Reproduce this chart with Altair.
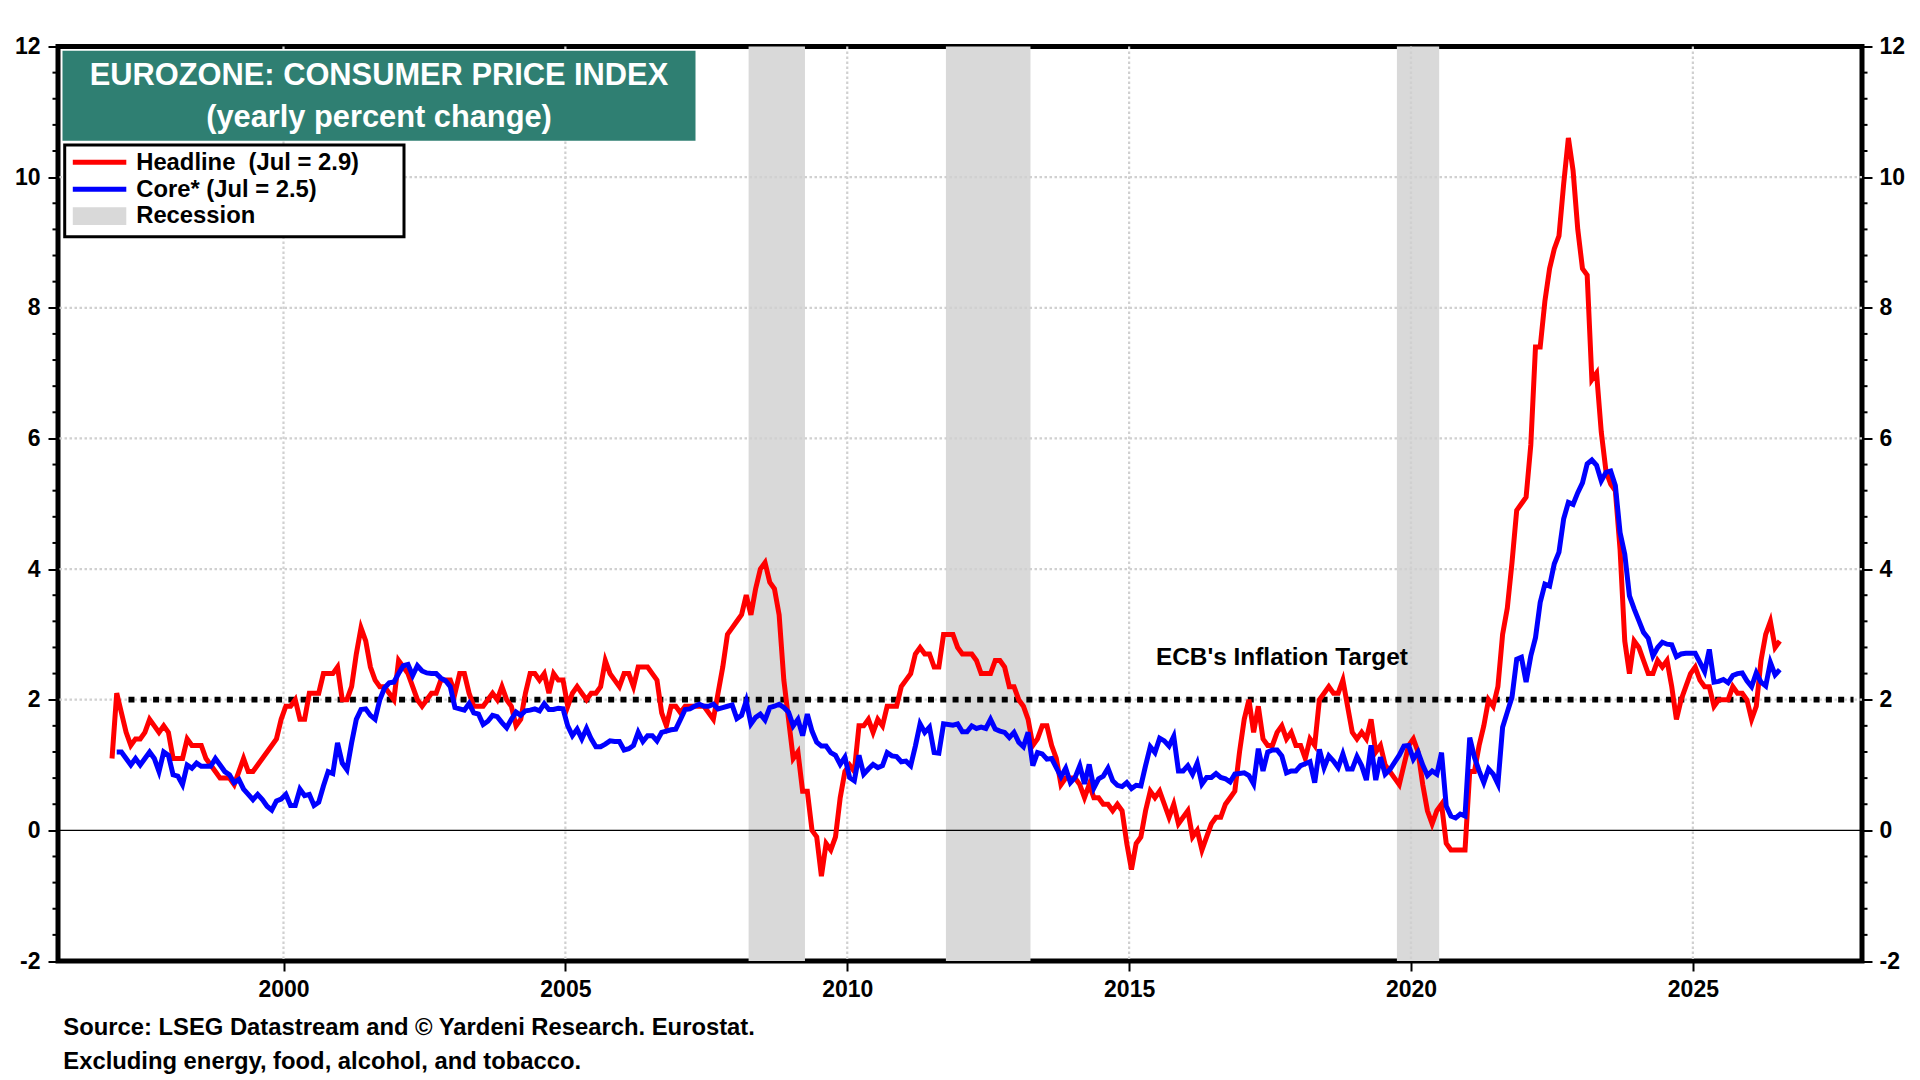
import altair as alt
import pandas as pd

# Eurozone HICP, yearly % change, monthly. Headline: Dec 1996 .. Jul 2026
headline = [
    1.1,
    2.1, 1.8, 1.5, 1.3, 1.4, 1.4, 1.5, 1.7, 1.6, 1.5, 1.6, 1.5,   # 1997
    1.1, 1.1, 1.1, 1.4, 1.3, 1.3, 1.3, 1.1, 1.0, 0.9, 0.8, 0.8,   # 1998
    0.8, 0.7, 0.9, 1.1, 0.9, 0.9, 1.0, 1.1, 1.2, 1.3, 1.4, 1.7,   # 1999
    1.9, 1.9, 2.0, 1.7, 1.7, 2.1, 2.1, 2.1, 2.4, 2.4, 2.4, 2.5,   # 2000
    2.0, 2.0, 2.2, 2.7, 3.1, 2.9, 2.5, 2.3, 2.2, 2.2, 2.1, 2.0,   # 2001
    2.6, 2.5, 2.4, 2.2, 2.0, 1.9, 2.0, 2.1, 2.1, 2.3, 2.3, 2.3,   # 2002
    2.1, 2.4, 2.4, 2.1, 1.9, 1.9, 1.9, 2.0, 2.1, 2.0, 2.2, 2.0,   # 2003
    1.9, 1.6, 1.7, 2.1, 2.4, 2.4, 2.3, 2.4, 2.1, 2.4, 2.3, 2.3,   # 2004
    1.9, 2.1, 2.2, 2.1, 2.0, 2.1, 2.1, 2.2, 2.6, 2.4, 2.3, 2.2,   # 2005
    2.4, 2.4, 2.2, 2.5, 2.5, 2.5, 2.4, 2.3, 1.8, 1.6, 1.9, 1.9,   # 2006
    1.8, 1.9, 1.9, 1.9, 1.9, 1.9, 1.8, 1.7, 2.1, 2.5, 3.0, 3.1,   # 2007
    3.2, 3.3, 3.6, 3.3, 3.7, 4.0, 4.1, 3.8, 3.7, 3.3, 2.3, 1.7,   # 2008
    1.1, 1.2, 0.6, 0.6, 0.0, -0.1, -0.7, -0.2, -0.3, -0.1, 0.5, 0.9,  # 2009
    1.0, 0.9, 1.6, 1.6, 1.7, 1.5, 1.7, 1.6, 1.9, 1.9, 1.9, 2.2,   # 2010
    2.3, 2.4, 2.7, 2.8, 2.7, 2.7, 2.5, 2.5, 3.0, 3.0, 3.0, 2.8,   # 2011
    2.7, 2.7, 2.7, 2.6, 2.4, 2.4, 2.4, 2.6, 2.6, 2.5, 2.2, 2.2,   # 2012
    2.0, 1.9, 1.7, 1.3, 1.4, 1.6, 1.6, 1.3, 1.1, 0.7, 0.8, 0.8,   # 2013
    0.8, 0.7, 0.5, 0.7, 0.5, 0.5, 0.4, 0.4, 0.3, 0.4, 0.3, -0.2,  # 2014
    -0.6, -0.2, -0.1, 0.3, 0.6, 0.5, 0.6, 0.4, 0.2, 0.4, 0.1, 0.2,  # 2015
    0.3, -0.1, 0.0, -0.3, -0.1, 0.1, 0.2, 0.2, 0.4, 0.5, 0.6, 1.2,  # 2016
    1.7, 2.0, 1.5, 1.9, 1.4, 1.3, 1.3, 1.5, 1.6, 1.4, 1.5, 1.3,   # 2017
    1.3, 1.1, 1.4, 1.3, 2.0, 2.1, 2.2, 2.1, 2.1, 2.3, 1.9, 1.5,   # 2018
    1.4, 1.5, 1.4, 1.7, 1.2, 1.3, 1.0, 0.9, 0.8, 0.7, 1.0, 1.3,   # 2019
    1.4, 1.2, 0.7, 0.3, 0.1, 0.3, 0.4, -0.2, -0.3, -0.3, -0.3, -0.3,  # 2020
    0.9, 0.9, 1.3, 1.6, 2.0, 1.9, 2.2, 3.0, 3.4, 4.1, 4.9, 5.0,   # 2021
    5.1, 5.9, 7.4, 7.4, 8.1, 8.6, 8.9, 9.1, 9.9, 10.6, 10.1, 9.2,  # 2022
    8.6, 8.5, 6.9, 7.0, 6.1, 5.5, 5.3, 5.2, 4.3, 2.9, 2.4, 2.9,   # 2023
    2.8, 2.6, 2.4, 2.4, 2.6, 2.5, 2.6, 2.2, 1.7, 2.0, 2.2, 2.4,   # 2024
    2.5, 2.3, 2.2, 2.2, 1.9, 2.0, 2.0, 2.0, 2.2, 2.1, 2.1, 2.0,   # 2025
    1.7, 1.9, 2.6, 3.0, 3.2, 2.8, 2.9,                            # 2026
]

# Core (ex energy, food, alcohol, tobacco): Jan 1997 .. Jul 2026
core = [
    1.2, 1.2, 1.1, 1.0, 1.1, 1.0, 1.1, 1.2, 1.1, 0.9, 1.2, 1.15,   # 1997
    0.85, 0.83, 0.7, 1.0, 0.95, 1.03, 0.98, 0.98, 0.98, 1.1, 1.0, 0.9,  # 1998
    0.85, 0.73, 0.78, 0.63, 0.55, 0.47, 0.55, 0.47, 0.37, 0.31, 0.45, 0.48,  # 1999
    0.55, 0.38, 0.38, 0.63, 0.53, 0.55, 0.38, 0.43, 0.68, 0.9, 0.87, 1.34,  # 2000
    1.03, 0.93, 1.34, 1.7, 1.85, 1.86, 1.76, 1.7, 2.0, 2.18, 2.26, 2.27,  # 2001
    2.4, 2.52, 2.54, 2.37, 2.52, 2.44, 2.41, 2.4, 2.4, 2.33, 2.29, 2.2,  # 2002
    1.88, 1.86, 1.84, 1.94, 1.8, 1.78, 1.62, 1.67, 1.76, 1.74, 1.65, 1.57,  # 2003
    1.7, 1.81, 1.76, 1.83, 1.84, 1.86, 1.83, 1.94, 1.85, 1.85, 1.87, 1.86,  # 2004
    1.6, 1.45, 1.55, 1.4, 1.56, 1.4, 1.28, 1.28, 1.32, 1.37, 1.36, 1.36,  # 2005
    1.23, 1.25, 1.3, 1.5, 1.36, 1.45, 1.45, 1.37, 1.5, 1.52, 1.54, 1.55,  # 2006
    1.7, 1.85, 1.86, 1.9, 1.93, 1.9, 1.9, 1.93, 1.86, 1.88, 1.9, 1.92,  # 2007
    1.71, 1.76, 1.98, 1.63, 1.73, 1.78, 1.69, 1.88, 1.9, 1.93, 1.88, 1.81,  # 2008
    1.6, 1.7, 1.45, 1.78, 1.52, 1.35, 1.29, 1.29, 1.19, 1.15, 1.01, 1.12,  # 2009
    0.81, 0.76, 1.15, 0.86, 0.94, 1.01, 0.96, 0.99, 1.19, 1.14, 1.13, 1.05,  # 2010
    1.06, 0.99, 1.29, 1.63, 1.5, 1.58, 1.19, 1.18, 1.63, 1.62, 1.61, 1.63,  # 2011
    1.51, 1.51, 1.6, 1.56, 1.58, 1.56, 1.7, 1.55, 1.52, 1.5, 1.42, 1.5,  # 2012
    1.35, 1.28, 1.5, 0.99, 1.19, 1.17, 1.09, 1.1, 0.96, 0.82, 0.95, 0.73,  # 2013
    0.81, 0.99, 0.71, 1.01, 0.65, 0.79, 0.83, 0.95, 0.76, 0.69, 0.67, 0.73,  # 2014
    0.64, 0.69, 0.68, 0.99, 1.28, 1.19, 1.41, 1.37, 1.29, 1.44, 0.91, 0.91,  # 2015
    0.99, 0.86, 1.03, 0.71, 0.81, 0.81, 0.87, 0.81, 0.79, 0.74, 0.86, 0.87,  # 2016
    0.88, 0.84, 0.71, 1.25, 0.91, 1.2, 1.23, 1.23, 1.14, 0.88, 0.91, 0.91,  # 2017
    0.99, 1.02, 1.05, 0.73, 1.24, 0.96, 1.14, 1.06, 0.96, 1.17, 0.94, 0.94,  # 2018
    1.13, 0.99, 0.77, 1.3, 0.77, 1.12, 0.86, 0.93, 1.04, 1.15, 1.29, 1.3,  # 2019
    1.09, 1.2, 1.0, 0.84, 0.91, 0.86, 1.19, 0.37, 0.22, 0.19, 0.25, 0.22,  # 2020
    1.42, 1.12, 0.91, 0.73, 0.94, 0.86, 0.71, 1.58, 1.81, 2.04, 2.62, 2.65,  # 2021
    2.27, 2.67, 2.95, 3.49, 3.77, 3.74, 4.08, 4.26, 4.77, 5.02, 4.99, 5.17,  # 2022
    5.32, 5.61, 5.67, 5.59, 5.35, 5.48, 5.5, 5.28, 4.56, 4.23, 3.59, 3.39,  # 2023
    3.21, 3.03, 2.94, 2.67, 2.8, 2.88, 2.85, 2.84, 2.66, 2.7, 2.71, 2.71,  # 2024
    2.71, 2.57, 2.43, 2.77, 2.27, 2.28, 2.31, 2.26, 2.37, 2.4, 2.41, 2.29,  # 2025
    2.2, 2.41, 2.27, 2.21, 2.57, 2.38, 2.46,                              # 2026
]

# recessions (decimal years)
rec_start = [2008.25, 2011.75, 2019.75]
rec_end = [2009.25, 2013.25, 2020.5]

# ECB 2% target line
target_value = 2.0
target_from = 1997.25
target_to = 2027.85

year_ticks = [2000, 2005, 2010, 2015, 2020, 2025]
grid_levels = [2, 4, 6, 8, 10]
major_ticks = [-2, 0, 2, 4, 6, 8, 10, 12]
minor_ticks = [round(-2 + 0.4 * i, 1) for i in range(36) if i % 5]

FONT = "Liberation Sans"
W, H = 1804, 914.5


def month_positions(year, month, n):
    # monthly observations plotted at mid-month, as decimal years
    return [year + (month - 0.5 + i) / 12 for i in range(n)]


df_head = pd.DataFrame({"t": month_positions(1996, 12, len(headline)), "v": headline})
df_core = pd.DataFrame({"t": month_positions(1997, 1, len(core)), "v": core})
df_rec = pd.DataFrame({"start": rec_start, "end": rec_end})
df_years = pd.DataFrame({"year": year_ticks})
df_levels = pd.DataFrame({"level": grid_levels})
df_minor = pd.DataFrame({"v": minor_ticks})
df_target = pd.DataFrame({"x0": [target_from], "x1": [target_to], "v": [target_value]})
df_label = pd.DataFrame({"x": [2017.71], "y": [2.53], "label": ["ECB's Inflation Target"]})
one = pd.DataFrame({"a": [0]})

xs = alt.Scale(domain=[1996, 2028], nice=False, zero=False)
ys = alt.Scale(domain=[-2, 12], nice=False, zero=False)

axis_style = dict(
    domain=False, grid=False, title=None,
    tickColor="black", tickWidth=2, tickSize=10,
    labelFont=FONT, labelFontSize=23, labelFontWeight="bold", labelColor="black",
    labelExpr="'' + datum.value",
)
x_axis = alt.Axis(values=year_ticks, labelPadding=7, **axis_style)
left_axis = alt.Axis(orient="left", values=major_ticks, labelPadding=8, **axis_style)
right_axis = alt.Axis(orient="right", values=major_ticks, labelPadding=7, **axis_style)

# recession shading
rec = alt.Chart(df_rec).mark_rect(color="#D9D9D9").encode(
    x=alt.X("start:Q", scale=xs, axis=None), x2="end:Q",
    y=alt.value(0), y2=alt.value(H),
)

# dotted grid
grid_style = dict(color="#D0D0D0", strokeWidth=2.2, strokeDash=[2.5, 2.5])
vgrid = alt.Chart(df_years).mark_rule(**grid_style).encode(
    x=alt.X("year:Q", scale=xs, axis=None))
hgrid = alt.Chart(df_levels).mark_rule(**grid_style).encode(
    y=alt.Y("level:Q", scale=ys, axis=None))

zero = alt.Chart(pd.DataFrame({"level": [0]})).mark_rule(color="black", strokeWidth=1.3).encode(
    y=alt.Y("level:Q", scale=ys, axis=None))

target = alt.Chart(df_target).mark_rule(color="black", strokeWidth=5.8, strokeDash=[6, 6.3]).encode(
    x=alt.X("x0:Q", scale=xs, axis=None), x2="x1:Q",
    y=alt.Y("v:Q", scale=ys, axis=None),
)

# minor ticks on both sides
minor_left = alt.Chart(df_minor).mark_rule(color="black", strokeWidth=2).encode(
    y=alt.Y("v:Q", scale=ys, axis=None), x=alt.value(-5.5), x2=alt.value(0))
minor_right = alt.Chart(df_minor).mark_rule(color="black", strokeWidth=2).encode(
    y=alt.Y("v:Q", scale=ys, axis=None), x=alt.value(W), x2=alt.value(W + 5.5))

red = alt.Chart(df_head).mark_line(color="#FF0000", strokeWidth=5).encode(
    x=alt.X("t:Q", scale=xs, axis=x_axis),
    y=alt.Y("v:Q", scale=ys, axis=left_axis),
)
blue = alt.Chart(df_core).mark_line(color="#0000FF", strokeWidth=5).encode(
    x=alt.X("t:Q", scale=xs, axis=None),
    y=alt.Y("v:Q", scale=ys, axis=right_axis),
)

ecb_label = alt.Chart(df_label).mark_text(
    font=FONT, fontSize=24.4, fontWeight="bold", color="black", align="center", baseline="alphabetic"
).encode(
    x=alt.X("x:Q", scale=xs, axis=None), y=alt.Y("y:Q", scale=ys, axis=None), text="label:N")

# title box
title_box = alt.Chart(one).mark_rect(color="#2F7F72").encode(
    x=alt.value(4.5), x2=alt.value(637.5), y=alt.value(4.2), y2=alt.value(94.2))
title_style = dict(font=FONT, fontSize=30.8, fontWeight="bold", color="white",
                   align="center", baseline="alphabetic")
title1 = alt.Chart(one).mark_text(**title_style).encode(
    x=alt.value(321), y=alt.value(38.5), text=alt.value("EUROZONE: CONSUMER PRICE INDEX"))
title2 = alt.Chart(one).mark_text(**title_style).encode(
    x=alt.value(321), y=alt.value(80.5), text=alt.value("(yearly percent change)"))

# legend
leg_box = alt.Chart(one).mark_rect(fill="white", stroke="black", strokeWidth=3).encode(
    x=alt.value(6.7), x2=alt.value(346), y=alt.value(98.5), y2=alt.value(190.2))
leg_red = alt.Chart(one).mark_rule(color="#FF0000", strokeWidth=5).encode(
    x=alt.value(14.8), x2=alt.value(68.3), y=alt.value(115.8))
leg_blue = alt.Chart(one).mark_rule(color="#0000FF", strokeWidth=5).encode(
    x=alt.value(14.8), x2=alt.value(68.3), y=alt.value(142.8))
leg_rec = alt.Chart(one).mark_rect(color="#D9D9D9").encode(
    x=alt.value(14.8), x2=alt.value(68.3), y=alt.value(160.8), y2=alt.value(178.5))
leg_style = dict(font=FONT, fontSize=23.8, fontWeight="bold", color="black",
                 align="left", baseline="alphabetic")
leg_t1 = alt.Chart(one).mark_text(**leg_style).encode(
    x=alt.value(78.2), y=alt.value(123.5), text=alt.value("Headline \u00a0(Jul = 2.9)"))
leg_t2 = alt.Chart(one).mark_text(**leg_style).encode(
    x=alt.value(78.2), y=alt.value(150.2), text=alt.value("Core* (Jul = 2.5)"))
leg_t3 = alt.Chart(one).mark_text(**leg_style).encode(
    x=alt.value(78.2), y=alt.value(176.8), text=alt.value("Recession"))

# footnotes below the plot
foot_style = dict(font=FONT, fontSize=23.8, fontWeight="bold", color="black",
                  align="left", baseline="alphabetic")
foot1 = alt.Chart(one).mark_text(**foot_style).encode(
    x=alt.value(5.3), y=alt.value(H + 74),
    text=alt.value("Source: LSEG Datastream and \u00a9 Yardeni Research. Eurostat."))
foot2 = alt.Chart(one).mark_text(**foot_style).encode(
    x=alt.value(5.3), y=alt.value(H + 108),
    text=alt.value("Excluding energy, food, alcohol, and tobacco."))

chart = alt.layer(
    rec, vgrid, hgrid, zero, target, minor_left, minor_right,
    red, blue, ecb_label,
    title_box, title1, title2,
    leg_box, leg_red, leg_blue, leg_rec, leg_t1, leg_t2, leg_t3,
    foot1, foot2,
).resolve_axis(
    x="independent", y="independent"
).properties(
    width=W, height=H,
    padding={"left": 50, "top": 38.5, "right": 50, "bottom": 115},
    autosize=alt.AutoSizeParams(type="none"),
).configure_view(
    stroke="black", strokeWidth=5
)

chart.save("out.html", embed_options={"renderer": "svg", "actions": False})
